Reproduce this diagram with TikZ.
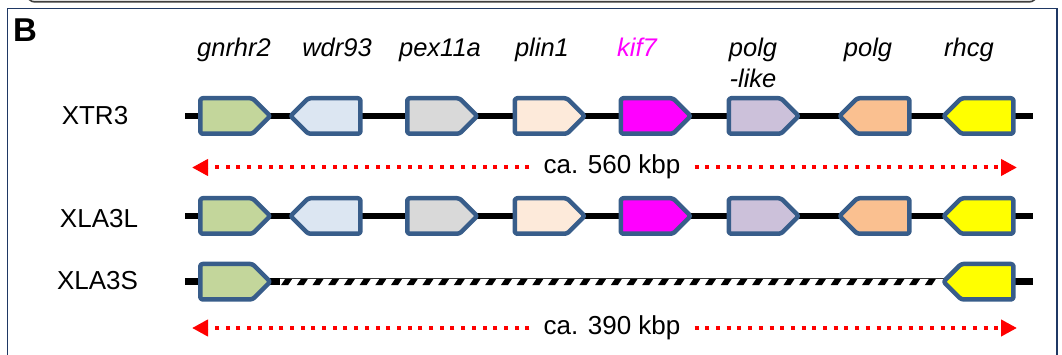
\documentclass[tikz,border=0pt]{standalone}
\usepackage{fontspec}
\setmainfont{Liberation Sans}
\usetikzlibrary{arrows.meta,shapes.symbols}
\definecolor{genebd}{RGB}{56,93,138}
\definecolor{framebd}{RGB}{31,56,100}
\definecolor{cgnrhr}{RGB}{195,214,155}
\definecolor{cwdr}{RGB}{220,230,242}
\definecolor{cpex}{RGB}{217,217,217}
\definecolor{cplin}{RGB}{253,234,218}
\definecolor{ckif}{RGB}{255,0,255}
\definecolor{cpolgl}{RGB}{204,193,218}
\definecolor{cpolg}{RGB}{250,192,144}
\definecolor{crhcg}{RGB}{255,255,0}

\begin{document}
\begin{tikzpicture}[x=1pt, y=-1pt,
    gene/.style={signal, draw=genebd, line width=4.5pt, rounded corners=2.5pt, line join=round,
                 minimum width=70pt, minimum height=35.5pt, inner sep=0pt, signal pointer angle=90},
    fwd/.style={gene, signal to=east, anchor=west},
    rev/.style={gene, signal to=west, anchor=east},
    chrom/.style={line width=6.5pt},
    genelabel/.style={font=\fontsize{25.5}{31}\selectfont\itshape, anchor=base, inner sep=0pt},
    species/.style={font=\fontsize{26}{30}\selectfont},
    kbarrow/.style={red, line width=4pt, dash pattern=on 4pt off 6.7pt,
                    -{Triangle[length=16pt,width=16pt]}}
]
    \path[use as bounding box] (0,0) rectangle (1062,355);

    % panel frames
    \draw[black!75, fill=black!12, line width=1.5pt, rounded corners=8pt] (27,-40) rectangle (1037,2);
    \draw[framebd, line width=1.5pt] (7.5,8.5) rectangle (1057,380);
    \node[font=\fontsize{33}{36}\selectfont\bfseries, anchor=base west, inner sep=0pt] (panel) at (13,42) {B};

    % chromosome lines
    \coordinate (xtrL) at (185,116);
    \coordinate (xtrR) at (1033,116);
    \coordinate (lalL) at (185,216);
    \coordinate (lalR) at (1033,216);
    \coordinate (lasL) at (185,281.7);
    \coordinate (lasR) at (1033,281.7);
    \coordinate (gapL) at (280,281.7);
    \coordinate (gapR) at (945,281.7);
    \draw[chrom] (xtrL) -- (xtrR);
    \draw[chrom] (lalL) -- (lalR);
    \draw[chrom] (lasL) -- (gapL);
    \draw[chrom] (gapR) -- (lasR);
    \draw[black!80, line width=1.2pt] (gapL |- 0,278.6) -- (gapR |- 0,278.6);
    \foreach \x in {281,296.7,...,935}
        \fill (\x,285.2) -- ++(7,0) -- ++(4,-6) -- ++(-7,0) -- cycle;

    % gene names
    \node[genelabel] (lgnrhr) at (234,57) {gnrhr2};
    \node[genelabel] (lwdr) at (337,57) {wdr93};
    \node[genelabel] (lpex) at (440,57) {pex11a};
    \node[genelabel] (lplin) at (542,57) {plin1};
    \node[genelabel, text=ckif] (lkif) at (637,57) {kif7};
    \node[genelabel, align=center] (lpolgl) at (753,88) {polg\\-like};
    \node[genelabel] (lpolg) at (868,57) {polg};
    \node[genelabel] (lrhcg) at (969,57) {rhcg};

    % species
    \node[species] (xtr) at (95,115.5) {XTR3};
    \node[species] (xlal) at (99,219) {XLA3L};
    \node[species] (xlas) at (97.5,281) {XLA3S};

    % XTR3
    \node[fwd, fill=cgnrhr] (gnrhrA) at (198,116) {};
    \node[rev, fill=cwdr] (wdrA) at (362.7,116) {};
    \node[fwd, fill=cpex] (pexA) at (405,116) {};
    \node[fwd, fill=cplin] (plinA) at (512.5,116) {};
    \node[fwd, fill=ckif] (kifA) at (618.5,116) {};
    \node[fwd, fill=cpolgl] (polglA) at (726.5,116) {};
    \node[rev, fill=cpolg] (polgA) at (911.7,116) {};
    \node[rev, fill=crhcg] (rhcgA) at (1015.7,116) {};

    % XLA3L
    \node[fwd, fill=cgnrhr] (gnrhrB) at (198,216) {};
    \node[rev, fill=cwdr] (wdrB) at (362.7,216) {};
    \node[fwd, fill=cpex] (pexB) at (405,216) {};
    \node[fwd, fill=cplin] (plinB) at (512.5,216) {};
    \node[fwd, fill=ckif] (kifB) at (618.5,216) {};
    \node[fwd, fill=cpolgl] (polglB) at (726.5,216) {};
    \node[rev, fill=cpolg] (polgB) at (911.7,216) {};
    \node[rev, fill=crhcg] (rhcgB) at (1015.7,216) {};

    % XLA3S
    \node[fwd, fill=cgnrhr] (gnrhrC) at (198,281.7) {};
    \node[rev, fill=crhcg] (rhcgC) at (1015.7,281.7) {};

    % lengths
    \node[species, anchor=base, inner xsep=14pt] (len1) at (612,173.5) {ca. 560 kbp};
    \coordinate (a1L) at (192,167.5);
    \coordinate (a1R) at (1017,167.5);
    \draw[kbarrow] (len1.west |- a1L) -- (a1L);
    \draw[kbarrow] (len1.east |- a1R) -- (a1R);

    \node[species, anchor=base, inner xsep=14pt] (len2) at (612,334) {ca. 390 kbp};
    \coordinate (a2L) at (192,328);
    \coordinate (a2R) at (1017,328);
    \draw[kbarrow] (len2.west |- a2L) -- (a2L);
    \draw[kbarrow] (len2.east |- a2R) -- (a2R);
\end{tikzpicture}
\end{document}
